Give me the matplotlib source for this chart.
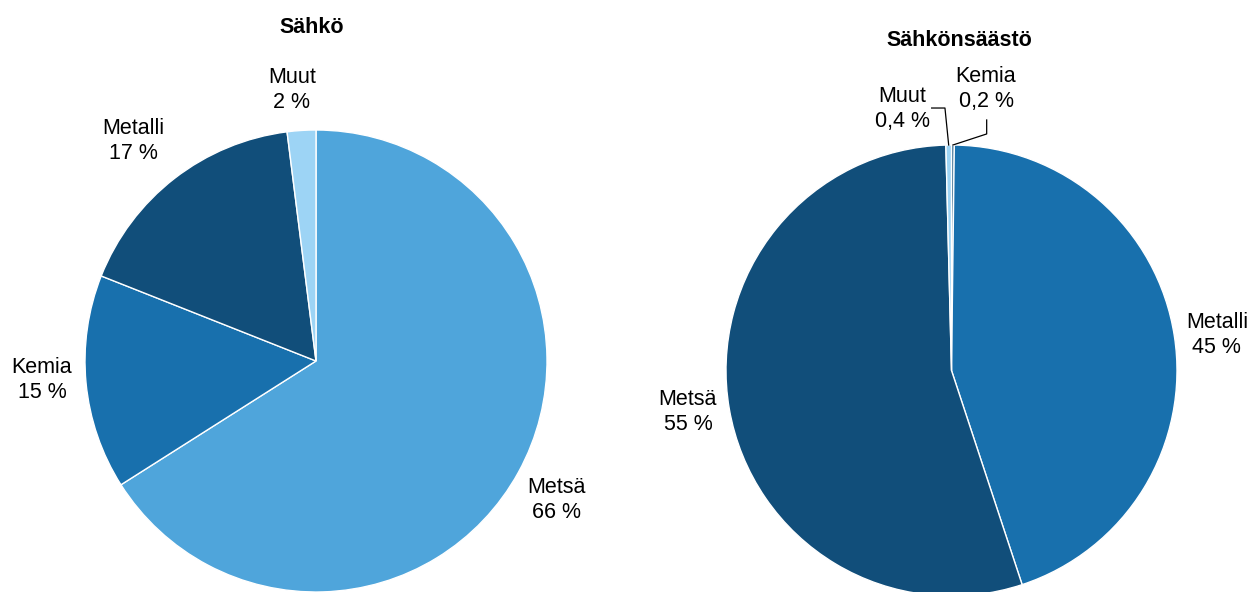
import numpy as np
import matplotlib.pyplot as plt

plt.rcParams['font.family'] = ['Liberation Sans', 'DejaVu Sans']

# Sähkö (vasen)
labels_left = ['Metsä', 'Kemia', 'Metalli', 'Muut']
values_left = [66, 15, 17, 2]
pct_left = ['66 %', '15 %', '17 %', '2 %']
colors_left = ['#4FA5DB', '#1870AD', '#114E7A', '#9DD4F5']

# Sähkönsäästö (oikea)
labels_right = ['Kemia', 'Metalli', 'Metsä', 'Muut']
values_right = [0.2, 45, 55, 0.4]
pct_right = ['0,2 %', '45 %', '55 %', '0,4 %']
colors_right = ['#114E7A', '#1870AD', '#114E7A', '#9DD4F5']

W, H = 1252, 592
fig = plt.figure(figsize=(W / 100, H / 100), dpi=100)


def pie_axes(cx, cy, r):
    # cx, cy, r in pixels, y from top
    ax = fig.add_axes([(cx - r) / W, (H - cy - r) / H, 2 * r / W, 2 * r / H])
    return ax


def draw(ax, values, colors):
    wedges, _ = ax.pie(values, colors=colors, startangle=90, counterclock=False,
                       radius=1, wedgeprops=dict(edgecolor='white', linewidth=1))
    for w in wedges:
        w.set_clip_on(False)
    # pie() resets limits, so set them afterwards
    ax.set_xlim(-1, 1)
    ax.set_ylim(-1, 1)
    ax.set_aspect('equal')
    ax.axis('off')
    return wedges


fs = 15.5
ax1 = pie_axes(316, 361, 231)
draw(ax1, values_left, colors_left)
pos_left = [(1.039, -0.602), (-1.186, -0.082), (-0.792, 0.952), (-0.104, 1.173)]
for lab, p, (x, y) in zip(labels_left, pct_left, pos_left):
    ax1.text(x, y, lab + '\n' + p, ha='center', va='center', fontsize=fs, linespacing=1.25)
ax1.text(-0.02, 1.442, 'Sähkö', ha='center', va='center', fontsize=fs, fontweight='bold')

ax2 = pie_axes(951.5, 370.5, 225.5)
wedges2 = draw(ax2, values_right, colors_right)
pos_right = [(0.153, 1.248), (1.177, 0.157), (-1.169, -0.184), (-0.219, 1.160)]
for lab, p, (x, y) in zip(labels_right, pct_right, pos_right):
    ax2.text(x, y, lab + '\n' + p, ha='center', va='center', fontsize=fs, linespacing=1.25)
ax2.text(0.035, 1.465, 'Sähkönsäästö', ha='center', va='center', fontsize=fs, fontweight='bold')

# leader lines for the small slices
def edge_point(w):
    a = np.deg2rad((w.theta1 + w.theta2) / 2)
    return np.cos(a), np.sin(a)

kx, ky = edge_point(wedges2[0])
ax2.plot([0.156, 0.156, kx], [1.111, 1.049, ky], color='black', lw=0.9, clip_on=False)
mx, my = edge_point(wedges2[3])
ax2.plot([-0.088, -0.029, mx], [1.164, 1.164, my], color='black', lw=0.9, clip_on=False)

fig.savefig('out.png', dpi=100)
